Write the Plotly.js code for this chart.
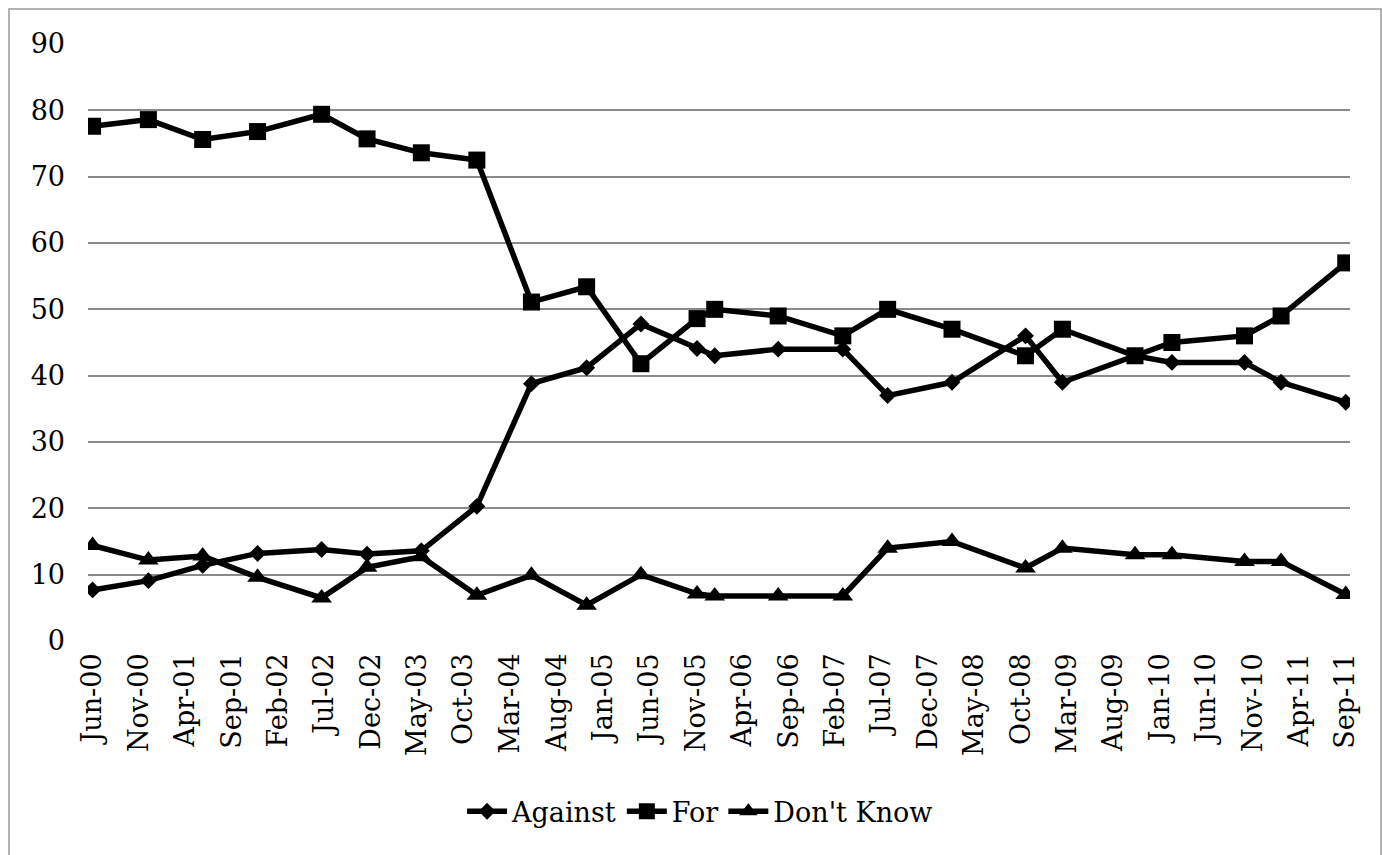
<!DOCTYPE html>
<html>
<head>
<meta charset="utf-8">
<script src="https://cdn.plot.ly/plotly-3.0.1.min.js"></script>
<style>
  html, body { margin: 0; padding: 0; background: #ffffff; }
  #chart { width: 1382px; height: 855px; }
</style>
</head>
<body>
<div id="chart"></div>
<script>
// Survey dates
const surveyDates = [
  '2000-06-01', '2000-12-01', '2001-05-28', '2001-11-24', '2002-06-22', '2002-11-18',
  '2003-05-15', '2003-11-13', '2004-05-10', '2004-11-07', '2005-05-04', '2005-11-04',
  '2006-01-01', '2006-07-28', '2007-02-25', '2007-07-22', '2008-02-18', '2008-10-16',
  '2009-02-14', '2009-10-10', '2010-02-08', '2010-10-04', '2011-02-01', '2011-09-01'
];
const againstValues = [
  7.7, 9.1, 11.4, 13.2, 13.8, 13.1, 13.6, 20.3, 38.8, 41.2, 47.8, 44.1,
  43, 44, 44, 37, 39, 46, 39, 43, 42, 42, 39, 36
];
const forValues = [
  77.6, 78.6, 75.6, 76.8, 79.4, 75.7, 73.6, 72.5, 51.1, 53.4, 41.8, 48.6,
  50, 49, 46, 50, 47, 43, 47, 43, 45, 46, 49, 57
];
const dontKnowValues = [
  14.4, 12.2, 12.8, 9.6, 6.5, 11.1, 12.7, 6.9, 9.9, 5.4, 10, 7.1,
  6.8, 6.8, 6.8, 14, 15, 11, 14, 13, 13, 12, 12, 7
];
const seriesNames = ['Against', 'For', "Don't Know"];

const FONT = 'DejaVu Serif, Liberation Serif, serif';

function series(name, y, symbol, size) {
  return {
    type: 'scatter', mode: 'lines+markers', name: name,
    x: surveyDates, y: y,
    line: { color: '#000000', width: 5.5 },
    marker: { symbol: symbol, size: size, color: '#000000', line: { color: '#000000', width: 0 } },
    hoverinfo: 'skip'
  };
}

const data = [
  series(seriesNames[0], againstValues, 'diamond', 13),
  series(seriesNames[1], forValues, 'square', 17),
  series(seriesNames[2], dontKnowValues, 'triangle-up', 18)
];

const layout = {
  width: 1382, height: 855,
  margin: { l: 88, r: 32, t: 44, b: 214 },
  paper_bgcolor: '#ffffff', plot_bgcolor: '#ffffff',
  font: { family: FONT, size: 27, color: '#000000' },
  showlegend: true,
  legend: {
    orientation: 'h', x: 0.485, xanchor: 'center', y: -0.286, yanchor: 'middle',
    font: { family: FONT, size: 27, color: '#000000' },
    itemwidth: 40, tracegroupgap: 0, bgcolor: 'rgba(0,0,0,0)'
  },
  xaxis: {
    type: 'date',
    range: ['2000-05-17', '2011-09-15'],
    tick0: '2000-06-01', dtick: 'M5', tickformat: '%b-%y',
    tickangle: -90, ticks: '', ticklabelstandoff: 6,
    showgrid: false, zeroline: false, showline: false,
    tickfont: { family: FONT, size: 27, color: '#000000' },
    fixedrange: true
  },
  yaxis: {
    range: [0, 90], dtick: 10, tick0: 0,
    showgrid: true, gridcolor: '#8a8a8a', gridwidth: 2,
    zeroline: false, showline: false, ticks: '', ticklabelstandoff: 22,
    tickfont: { family: FONT, size: 27, color: '#000000' },
    fixedrange: true
  },
  shapes: [
    { type: 'rect', xref: 'paper', yref: 'paper',
      x0: -0.0626, x1: 1.0246, y0: -0.40, y1: 1.0586,
      line: { color: '#9a9a9a', width: 1.5 }, fillcolor: 'rgba(0,0,0,0)', layer: 'below' }
  ]
};

Plotly.newPlot('chart', data, layout, { displayModeBar: false, staticPlot: true });
</script>
</body>
</html>
